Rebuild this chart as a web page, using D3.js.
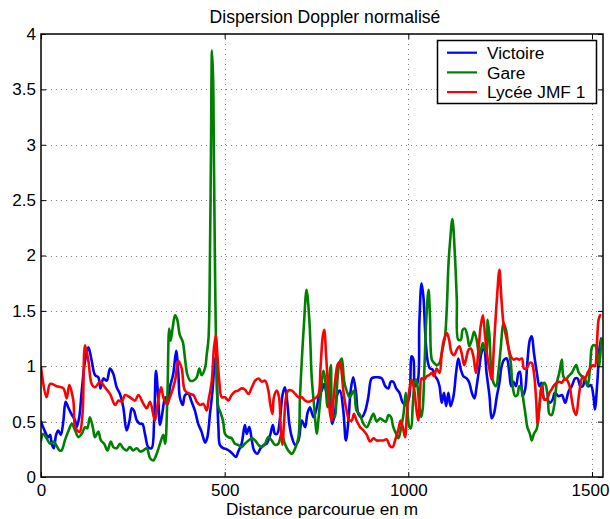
<!DOCTYPE html>
<html>
<head>
<meta charset="utf-8">
<script src="https://cdn.jsdelivr.net/npm/d3@7"></script>
<style>
  html, body { margin: 0; padding: 0; background: #fff; }
  svg { display: block; }
  text { font-family: "Liberation Sans", Arial, Helvetica, sans-serif; fill: #000; }
</style>
</head>
<body>
<div id="chart"></div>
<script>
// Normalised Doppler spread along the route: [distance (m), value]
const victoire = [
  [0,0.50],[11,0.41],[20,0.36],[25,0.38],[29,0.30],[35,0.26],[41,0.38],[47,0.42],[54,0.38],
  [61,0.51],[67,0.68],[74,0.63],[84,0.56],[93,0.51],[97,0.45],[104,0.54],[111,0.78],[120,1.05],
  [129,1.17],[138,1.05],[147,0.92],[156,0.90],[162,0.80],[170,0.89],[179,0.87],[188,0.98],
  [197,0.93],[206,0.81],[215,0.75],[224,0.63],[233,0.42],[241,0.51],[247,0.62],[253,0.60],
  [261,0.51],[270,0.48],[276,0.48],[283,0.39],[292,0.27],[301,0.26],[308,0.51],[313,0.96],
  [319,0.72],[324,0.47],[330,0.57],[338,0.72],[345,0.66],[351,0.81],[360,0.93],[368,1.14],
  [374,0.93],[378,0.72],[386,0.65],[392,0.74],[401,0.75],[410,0.68],[419,0.60],[428,0.48],
  [437,0.41],[447,0.31],[453,0.36],[460,0.57],[467,0.78],[474,1.06],[477,1.08],[480,0.72],
  [483,0.45],[487,0.29],[496,0.26],[506,0.25],[515,0.23],[524,0.20],[531,0.18],[537,0.23],
  [546,0.30],[555,0.47],[560,0.39],[567,0.45],[574,0.33],[580,0.24],[589,0.21],[598,0.26],
  [607,0.29],[614,0.30],[624,0.38],[631,0.47],[637,0.39],[643,0.39],[651,0.54],[658,0.75],
  [664,0.81],[671,0.66],[676,0.48],[683,0.36],[692,0.29],[701,0.33],[710,0.51],[719,0.45],
  [725,0.57],[732,0.63],[742,0.54],[751,0.63],[758,0.75],[764,0.78],[771,0.84],[778,0.75],
  [782,0.87],[787,0.72],[793,0.48],[800,0.57],[807,0.75],[814,0.78],[823,0.60],[830,0.33],
  [837,0.51],[843,0.78],[850,0.90],[858,0.75],[864,0.57],[873,0.54],[882,0.59],[891,0.72],
  [900,0.89],[909,0.90],[918,0.90],[928,0.89],[937,0.82],[946,0.80],[952,0.86],[959,0.86],
  [967,0.80],[976,0.76],[985,0.67],[994,0.65],[1003,0.73],[1009,1.09],[1014,1.06],[1018,0.82],
  [1025,0.85],[1030,1.39],[1036,1.75],[1041,1.63],[1047,1.24],[1053,1.04],[1059,0.98],
  [1066,0.97],[1073,0.91],[1079,0.88],[1085,0.82],[1091,0.67],[1097,0.76],[1103,0.64],
  [1109,0.76],[1115,0.64],[1123,0.73],[1130,0.94],[1136,1.07],[1143,0.97],[1150,0.91],
  [1159,0.89],[1166,0.85],[1173,0.76],[1180,0.71],[1186,0.82],[1193,0.98],[1200,1.13],
  [1206,1.16],[1213,0.94],[1221,0.73],[1227,0.53],[1233,0.57],[1241,0.73],[1248,0.85],
  [1254,1.00],[1261,1.06],[1268,1.07],[1275,0.94],[1280,0.82],[1286,0.86],[1293,0.82],
  [1300,0.94],[1304,0.95],[1311,0.73],[1318,0.79],[1324,1.03],[1331,1.24],[1336,1.27],
  [1342,1.12],[1350,0.94],[1357,0.82],[1363,0.85],[1370,0.70],[1377,0.70],[1386,0.67],
  [1393,0.70],[1399,0.76],[1409,0.73],[1418,0.74],[1427,0.67],[1436,0.77],[1445,0.82],
  [1454,0.89],[1461,0.89],[1468,0.82],[1475,0.82],[1481,0.88],[1490,0.82],[1497,0.83],
  [1504,0.73],[1508,0.61],[1515,0.88],[1520,1.15],[1525,1.25]
];

const gare = [
  [0,0.33],[6,0.39],[15,0.35],[25,0.30],[34,0.32],[41,0.29],[50,0.24],[56,0.24],[65,0.33],
  [74,0.41],[84,0.48],[93,0.42],[102,0.36],[111,0.39],[120,0.45],[126,0.44],[133,0.54],
  [141,0.45],[147,0.36],[156,0.41],[163,0.33],[172,0.30],[181,0.24],[190,0.32],[197,0.27],
  [206,0.26],[215,0.30],[224,0.26],[233,0.24],[242,0.27],[251,0.24],[261,0.26],[270,0.23],
  [279,0.24],[288,0.26],[297,0.17],[306,0.15],[315,0.21],[324,0.30],[333,0.38],[338,0.30],
  [344,0.72],[349,1.34],[353,1.23],[359,1.36],[365,1.46],[371,1.42],[378,1.28],[386,1.22],
  [392,1.07],[398,0.93],[406,0.87],[415,0.87],[424,0.90],[431,0.98],[437,0.92],[447,0.99],
  [451,1.10],[456,1.25],[460,2.00],[463,3.05],[465.5,3.85],[468.5,3.60],[471,2.80],
  [474,1.80],[477,1.05],[480,0.72],[483,0.63],[490,0.57],[496,0.50],[501,0.39],[510,0.36],
  [519,0.35],[528,0.30],[537,0.29],[546,0.27],[555,0.30],[565,0.33],[574,0.35],[583,0.33],
  [592,0.29],[601,0.27],[610,0.30],[619,0.36],[628,0.33],[637,0.29],[646,0.30],[655,0.39],
  [664,0.30],[673,0.24],[683,0.21],[692,0.26],[701,0.36],[705,0.72],[710,1.05],[716,1.39],
  [723,1.69],[731,1.39],[737,0.90],[743,0.66],[751,0.39],[755,0.51],[761,0.72],[769,0.96],
  [773,0.90],[780,0.63],[785,0.90],[789,1.01],[794,0.57],[800,0.54],[805,0.78],[812,1.02],
  [819,1.07],[825,0.87],[832,0.78],[840,0.72],[846,0.75],[852,0.78],[859,0.60],[867,0.57],
  [878,0.48],[887,0.45],[896,0.51],[905,0.57],[914,0.50],[923,0.53],[932,0.51],[939,0.50],
  [946,0.56],[953,0.54],[959,0.45],[967,0.39],[973,0.35],[979,0.42],[987,0.57],[993,0.76],
  [997,0.64],[1003,0.45],[1007,0.44],[1012,0.64],[1017,0.85],[1021,0.88],[1025,0.82],
  [1030,0.64],[1035,0.54],[1039,0.61],[1044,1.00],[1048,1.36],[1055,1.69],[1059,1.45],
  [1064,1.06],[1070,1.03],[1077,1.01],[1085,1.03],[1091,1.12],[1095,1.18],[1100,1.27],
  [1105,1.54],[1109,1.90],[1114,2.14],[1120,2.33],[1127,1.99],[1132,1.60],[1136,1.24],
  [1143,1.24],[1148,1.33],[1154,1.34],[1161,1.27],[1166,1.18],[1173,1.24],[1179,1.31],
  [1186,1.24],[1193,1.09],[1198,1.15],[1203,1.21],[1209,1.15],[1213,1.12],[1216,1.42],
  [1221,1.27],[1225,1.00],[1232,0.85],[1239,0.82],[1245,0.94],[1252,1.18],[1259,1.39],
  [1266,1.33],[1272,1.18],[1279,1.03],[1284,0.82],[1291,0.73],[1297,0.74],[1302,0.82],
  [1309,0.79],[1313,0.70],[1320,0.54],[1324,0.45],[1331,0.39],[1336,0.33],[1342,0.39],
  [1350,0.44],[1357,0.64],[1363,0.82],[1370,0.85],[1375,0.82],[1380,0.70],[1384,0.57],
  [1390,0.56],[1397,0.64],[1404,0.85],[1411,0.94],[1418,1.06],[1422,0.91],[1429,0.88],
  [1436,0.91],[1445,0.94],[1457,1.01],[1463,0.95],[1472,0.91],[1481,0.88],[1488,0.82],
  [1495,1.00],[1501,1.18],[1508,1.19],[1515,1.12],[1520,1.00],[1525,1.24]
];

const lycee = [
  [0,0.99],[15,0.72],[25,0.84],[43,0.82],[61,0.80],[70,0.71],[77,0.83],[88,0.69],[93,0.45],
  [102,0.41],[106,0.41],[113,0.57],[120,1.19],[129,1.05],[138,0.84],[147,0.81],[161,0.86],
  [174,0.81],[188,0.75],[202,0.65],[211,0.69],[220,0.68],[229,0.74],[242,0.72],[256,0.69],
  [265,0.74],[279,0.66],[288,0.62],[297,0.68],[310,0.51],[319,0.69],[327,0.81],[333,0.72],
  [342,0.66],[351,0.72],[365,0.87],[374,1.05],[383,0.98],[392,0.78],[406,0.75],[415,0.74],
  [424,0.68],[433,0.65],[442,0.66],[451,0.60],[456,0.69],[465,0.87],[471,1.17],[476,1.28],
  [480,1.11],[486,0.84],[492,0.72],[501,0.72],[510,0.69],[519,0.74],[528,0.77],[537,0.78],
  [546,0.80],[555,0.79],[565,0.75],[574,0.81],[583,0.87],[592,0.89],[601,0.86],[610,0.87],
  [619,0.78],[624,0.66],[630,0.57],[634,0.72],[642,0.78],[648,0.72],[653,0.42],[657,0.29],
  [662,0.51],[667,0.72],[673,0.78],[683,0.78],[692,0.75],[701,0.72],[710,0.72],[719,0.69],
  [728,0.68],[737,0.69],[746,0.71],[755,0.74],[761,0.99],[767,1.27],[771,1.33],[776,1.11],
  [782,0.78],[787,0.57],[791,0.51],[796,0.69],[803,0.93],[808,1.02],[814,1.04],[819,0.93],
  [823,0.78],[832,0.60],[840,0.51],[846,0.51],[852,0.57],[859,0.51],[869,0.45],[878,0.42],
  [887,0.38],[896,0.32],[905,0.35],[914,0.33],[923,0.33],[932,0.33],[941,0.34],[950,0.28],
  [957,0.27],[964,0.33],[973,0.43],[979,0.51],[985,0.45],[991,0.36],[997,0.61],[1003,0.79],
  [1009,0.88],[1016,0.79],[1021,0.64],[1027,0.51],[1032,0.76],[1036,0.89],[1043,0.88],
  [1050,0.91],[1057,0.92],[1064,0.94],[1070,0.91],[1077,0.98],[1085,0.94],[1091,1.12],
  [1097,1.24],[1105,1.30],[1111,1.24],[1118,1.12],[1125,1.10],[1132,1.15],[1139,1.18],
  [1145,1.12],[1152,1.01],[1157,1.06],[1164,1.15],[1170,1.16],[1177,1.09],[1184,0.94],
  [1191,1.15],[1197,1.36],[1203,1.46],[1209,1.27],[1215,1.09],[1221,0.97],[1227,0.88],
  [1233,1.18],[1241,1.60],[1248,1.87],[1253,1.63],[1259,1.39],[1266,1.27],[1272,1.18],
  [1279,1.09],[1286,1.06],[1295,1.07],[1302,1.06],[1309,1.07],[1315,0.98],[1322,0.98],
  [1330,1.03],[1336,1.03],[1342,0.94],[1348,0.70],[1352,0.48],[1357,0.64],[1363,0.82],
  [1370,0.70],[1377,0.70],[1384,0.76],[1390,0.79],[1397,0.83],[1404,0.85],[1411,0.86],
  [1418,0.85],[1424,0.88],[1431,0.88],[1439,0.82],[1445,0.70],[1451,0.60],[1457,0.56],
  [1463,0.70],[1468,0.82],[1475,0.91],[1481,0.89],[1488,0.94],[1495,0.98],[1502,1.01],
  [1508,1.00],[1513,1.18],[1518,1.42],[1522,1.46]
];

const seriesNames  = ["Victoire", "Gare", "Lycée JMF 1"];
const seriesColors = ["#0000ff", "#008000", "#ff0000"];
const xTicks = [0, 500, 1000, 1500];
const yTicks = [0, 0.5, 1, 1.5, 2, 2.5, 3, 3.5, 4];
const xGrid = [500, 1000, 1500];
const yGrid = [0.5, 1, 1.5, 2, 2.5, 3, 3.5];
const titleText = "Dispersion Doppler normalisé";
const xLabelText = "Distance parcourue en m";

const W = 610, H = 519;
const plot = { left: 41, top: 34, right: 603, bottom: 477 };

const svg = d3.select("#chart").append("svg")
  .attr("width", W).attr("height", H);

const x = d3.scaleLinear().domain([0, 1530]).range([plot.left, plot.right]);
const y = d3.scaleLinear().domain([0, 4]).range([plot.bottom, plot.top]);

// dotted grid
const grid = svg.append("g").attr("stroke", "#808080").attr("stroke-width", 1)
  .attr("stroke-dasharray", "1,4");
grid.selectAll("line.gx").data(xGrid).join("line")
  .attr("x1", d => Math.round(x(d)) + 0.5).attr("x2", d => Math.round(x(d)) + 0.5)
  .attr("y1", plot.top).attr("y2", plot.bottom);
grid.selectAll("line.gy").data(yGrid).join("line")
  .attr("y1", d => Math.round(y(d)) + 0.5).attr("y2", d => Math.round(y(d)) + 0.5)
  .attr("x1", plot.left).attr("x2", plot.right);

// series
const line = d3.line().x(d => x(d[0])).y(d => y(d[1])).curve(d3.curveCatmullRom.alpha(0.5));
svg.append("clipPath").attr("id", "clip").append("rect")
  .attr("x", plot.left).attr("y", plot.top)
  .attr("width", plot.right - plot.left).attr("height", plot.bottom - plot.top);
const lines = svg.append("g").attr("clip-path", "url(#clip)");
[victoire, gare, lycee].forEach((data, i) => {
  lines.append("path")
    .datum(data)
    .attr("d", line)
    .attr("fill", "none")
    .attr("stroke", seriesColors[i])
    .attr("stroke-width", 2.6)
    .attr("stroke-linejoin", "round")
    .attr("stroke-linecap", "round");
});

// axes with inward ticks on all four sides
const tickLen = 5;
const axisFont = 17;
const xAxisB = d3.axisBottom(x).tickValues(xTicks).tickSizeInner(-tickLen).tickSizeOuter(0)
  .tickPadding(7).tickFormat(d3.format("d"));
const xAxisT = d3.axisTop(x).tickValues(xTicks).tickSizeInner(-tickLen).tickSizeOuter(0).tickFormat("");
const yAxisL = d3.axisLeft(y).tickValues(yTicks).tickSizeInner(-tickLen).tickSizeOuter(0).tickPadding(5)
  .tickFormat(d3.format("~g"));
const yAxisR = d3.axisRight(y).tickValues(yTicks).tickSizeInner(-tickLen).tickSizeOuter(0).tickFormat("");

function styleAxis(g) {
  g.select(".domain").remove();
  g.selectAll(".tick line").attr("stroke", "#000").attr("stroke-width", 1);
  g.selectAll(".tick text").attr("font-size", axisFont)
    .attr("font-family", "'Liberation Sans', Arial, Helvetica, sans-serif").attr("fill", "#000");
}
const gxB = svg.append("g").attr("transform", `translate(0,${plot.bottom})`).call(xAxisB).call(styleAxis);
// keep the last distance label inside the window
gxB.selectAll(".tick text").filter(d => d === 1500).attr("dx", "-2");
svg.append("g").attr("transform", `translate(0,${plot.top})`).call(xAxisT).call(styleAxis);
svg.append("g").attr("transform", `translate(${plot.left},0)`).call(yAxisL).call(styleAxis);
svg.append("g").attr("transform", `translate(${plot.right},0)`).call(yAxisR).call(styleAxis);

// axes box
svg.append("rect")
  .attr("x", plot.left).attr("y", plot.top)
  .attr("width", plot.right - plot.left).attr("height", plot.bottom - plot.top)
  .attr("fill", "none").attr("stroke", "#000").attr("stroke-width", 1.5);

// title and axis label
svg.append("text")
  .attr("x", (plot.left + plot.right) / 2 + 3).attr("y", 23)
  .attr("text-anchor", "middle").attr("font-size", 17.6)
  .text(titleText);
svg.append("text")
  .attr("x", (plot.left + plot.right) / 2).attr("y", 515)
  .attr("text-anchor", "middle").attr("font-size", 17.2)
  .text(xLabelText);

// legend
const legend = svg.append("g");
legend.append("rect")
  .attr("x", 437.5).attr("y", 40.5).attr("width", 159).attr("height", 63)
  .attr("fill", "#fff").attr("stroke", "#000").attr("stroke-width", 1.5);
seriesNames.forEach((name, i) => {
  const ly = 52.7 + i * 19.7;
  legend.append("line")
    .attr("x1", 447).attr("x2", 477).attr("y1", ly).attr("y2", ly)
    .attr("stroke", seriesColors[i]).attr("stroke-width", 2.2);
  legend.append("text")
    .attr("x", 487).attr("y", ly).attr("dy", "0.36em")
    .attr("font-size", 17.3)
    .text(name);
});
</script>
</body>
</html>
